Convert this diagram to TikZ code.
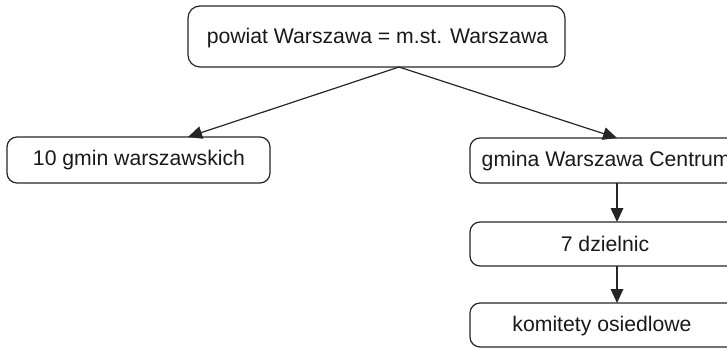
\documentclass[tikz,border=0pt]{standalone}
\usepackage{fontspec}
\setmainfont{Liberation Sans}
\usetikzlibrary{arrows.meta}
\begin{document}
\begin{tikzpicture}[x=0.75pt,y=-0.75pt,
  box/.style={draw=black!85,line width=0.9pt,rounded corners=7.5pt},
  bigbox/.style={draw=black!85,line width=0.9pt,rounded corners=9pt},
  lbl/.style={font=\fontsize{15.9pt}{18pt}\selectfont,text=black!90},
  conn/.style={line width=0.9pt,draw=black!85,-{Triangle[length=10.5pt,width=9.5pt]}}]
\useasboundingbox (0,0) rectangle (727,349);
\clip (0,0) rectangle (727,349);
% boxes
\draw[bigbox] (188,6) rectangle (565,67);
\node[lbl] (top) at (377.5,38) {powiat Warszawa = m.st. Warszawa};
\draw[box] (7,137) rectangle (270,183);
\node[lbl] (left) at (139,160) {10 gmin warszawskich};
\draw[box] (470,138) rectangle (740,183);
\node[lbl,anchor=west] (gmina) at (477,161) {gmina Warszawa Centrum};
\draw[box] (470,222) rectangle (740,266);
\node[lbl] (dz) at (605,244) {7 dzielnic};
\draw[box] (470,303) rectangle (740,347);
\node[lbl] (kom) at (602,326) {komitety osiedlowe};
% connector points
\coordinate (apex) at (399,67);
\coordinate (lt) at (188,137);
\coordinate (rt) at (617,138);
\coordinate (gb) at (617,183);
\coordinate (dt) at (617,222);
\coordinate (db) at (617,266);
\coordinate (kt) at (617,303);
\draw[conn] (apex) -- (lt);
\draw[conn] (apex) -- (rt);
\draw[conn] (gb) -- (dt);
\draw[conn] (db) -- (kt);
\end{tikzpicture}
\end{document}
